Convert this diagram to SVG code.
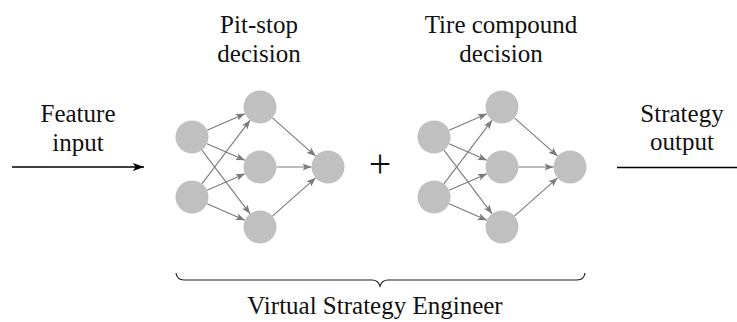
<svg xmlns="http://www.w3.org/2000/svg" width="737" height="322" viewBox="0 0 737 322">
  <style>
    .label { font-family: "Liberation Serif", "Times New Roman", serif; font-size: 25px; fill: #111; text-anchor: middle; }
    .neuron { fill: #c0c0c0; }
    .edge { stroke: #7a7a7a; stroke-width: 1.1; fill: none; marker-end: url(#tipGray); }
    .flow { stroke: #000; stroke-width: 1.4; fill: none; marker-end: url(#tipBlack); }
    .brace { stroke: #222; stroke-width: 1.2; fill: none; }
  </style>
  <defs>
    <marker id="tipGray" markerUnits="userSpaceOnUse" markerWidth="10" markerHeight="8" viewBox="0 0 10 8" refX="9" refY="4" orient="auto">
      <path d="M0,0.5 L9,4 L0,7.5 L2,4 Z" fill="#7a7a7a"/>
    </marker>
    <marker id="tipBlack" markerUnits="userSpaceOnUse" markerWidth="12" markerHeight="9" viewBox="0 0 12 9" refX="11" refY="4.5" orient="auto">
      <path d="M0,0.5 L11,4.5 L0,8.5 L2.5,4.5 Z" fill="#000"/>
    </marker>
  </defs>

  <!-- side labels -->
  <g id="feature-input">
    <text class="label" x="78" y="122">Feature</text>
    <text class="label" x="78" y="151">input</text>
  </g>
  <g id="strategy-output">
    <text class="label" x="682" y="122">Strategy</text>
    <text class="label" x="682" y="150">output</text>
  </g>

  <!-- network titles -->
  <g id="pitstop-title">
    <text class="label" x="259" y="33">Pit-stop</text>
    <text class="label" x="259" y="62">decision</text>
  </g>
  <g id="compound-title">
    <text class="label" x="501" y="33">Tire compound</text>
    <text class="label" x="501" y="62">decision</text>
  </g>

  <!-- connectors -->
  <g id="connectors">
    <line class="flow" x1="12" y1="167" x2="144" y2="167"/>
    <line class="flow" x1="617" y1="167.5" x2="748" y2="167.5"/>

    <!-- pit-stop network -->
    <line class="edge" x1="207.1" y1="130.3" x2="244.9" y2="113.7"/>
    <line class="edge" x1="207.1" y1="143.7" x2="244.9" y2="160.3"/>
    <line class="edge" x1="201.9" y1="150.2" x2="250.1" y2="213.8"/>
    <line class="edge" x1="201.9" y1="183.8" x2="250.1" y2="120.2"/>
    <line class="edge" x1="207.1" y1="190.3" x2="244.9" y2="173.7"/>
    <line class="edge" x1="207.1" y1="203.7" x2="244.9" y2="220.3"/>
    <line class="edge" x1="272.4" y1="117.9" x2="315.6" y2="156.1"/>
    <line class="edge" x1="276.5" y1="167" x2="311.5" y2="167"/>
    <line class="edge" x1="272.4" y1="216.1" x2="315.6" y2="177.9"/>

    <!-- tire compound network -->
    <line class="edge" x1="449.1" y1="130.3" x2="486.9" y2="113.7"/>
    <line class="edge" x1="449.1" y1="143.7" x2="486.9" y2="160.3"/>
    <line class="edge" x1="443.9" y1="150.2" x2="492.1" y2="213.8"/>
    <line class="edge" x1="443.9" y1="183.8" x2="492.1" y2="120.2"/>
    <line class="edge" x1="449.1" y1="190.3" x2="486.9" y2="173.7"/>
    <line class="edge" x1="449.1" y1="203.7" x2="486.9" y2="220.3"/>
    <line class="edge" x1="514.4" y1="117.9" x2="557.6" y2="156.1"/>
    <line class="edge" x1="518.5" y1="167" x2="553.5" y2="167"/>
    <line class="edge" x1="514.4" y1="216.1" x2="557.6" y2="177.9"/>
  </g>

  <!-- pit-stop network neurons -->
  <g id="pit-in1"><circle class="neuron" cx="192" cy="137" r="16.5"/></g>
  <g id="pit-in2"><circle class="neuron" cx="192" cy="197" r="16.5"/></g>
  <g id="pit-h1"><circle class="neuron" cx="260" cy="107" r="16.5"/></g>
  <g id="pit-h2"><circle class="neuron" cx="260" cy="167" r="16.5"/></g>
  <g id="pit-h3"><circle class="neuron" cx="260" cy="227" r="16.5"/></g>
  <g id="pit-out"><circle class="neuron" cx="328" cy="167" r="16.5"/></g>

  <!-- combination sign -->
  <g id="plus">
    <text x="380" y="177" font-family="Liberation Serif, serif" font-size="40" text-anchor="middle" fill="#111">+</text>
  </g>

  <!-- tire compound network neurons -->
  <g id="tire-in1"><circle class="neuron" cx="434" cy="137" r="16.5"/></g>
  <g id="tire-in2"><circle class="neuron" cx="434" cy="197" r="16.5"/></g>
  <g id="tire-h1"><circle class="neuron" cx="502" cy="107" r="16.5"/></g>
  <g id="tire-h2"><circle class="neuron" cx="502" cy="167" r="16.5"/></g>
  <g id="tire-h3"><circle class="neuron" cx="502" cy="227" r="16.5"/></g>
  <g id="tire-out"><circle class="neuron" cx="570" cy="167" r="16.5"/></g>

  <!-- grouping brace and caption -->
  <g id="engineer">
    <path class="brace" d="M176,273 Q177,280 184,280 L372,280 Q378,280 380,286 Q382,280 388,280 L577,280 Q584,280 585,273"/>
    <text class="label" x="375" y="314">Virtual Strategy Engineer</text>
  </g>
</svg>
